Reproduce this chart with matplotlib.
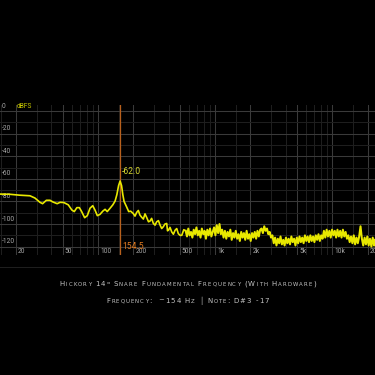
import matplotlib
matplotlib.use("Agg")
import matplotlib.pyplot as plt
from matplotlib.transforms import blended_transform_factory

# ---------------- data ----------------
freq_low = [14.6, 17.8, 21.6, 26.3, 29.0, 32.0, 33.7, 36.3, 39.0, 41.3, 44.9, 47.5, 51.2,
            55.8, 59.9, 62.8, 66.1, 69.4, 72.6, 77.0, 81.1, 85.6, 90.3, 94.4, 98.8, 104,
            110, 115, 120, 127, 134, 140, 145, 150, 154.5, 159, 163, 167, 175, 183, 190,
            200, 207, 214, 221, 228, 236, 244, 252, 261, 270, 278, 287, 297, 307, 317, 328, 339,
            350, 361, 373, 386, 392, 399, 412, 426, 440, 455, 470, 485, 502, 519, 540]
level_low = [-73.5, -73.7, -74.5, -75.0, -77.0, -80.8, -82.0, -79.0, -79.0, -80.5, -82.0, -80.8, -81.0,
             -83.0, -87.6, -89.0, -85.5, -85.5, -89.0, -94.4, -92.6, -86.0, -83.8, -87.7, -92.6, -91.5,
             -88.6, -87.0, -89.0, -86.0, -83.0, -79.7, -74.0, -66.0, -62.0, -66.0, -74.0, -80.0, -84.5, -89.0, -88.6,
             -90.7, -93.0, -89.7, -88.0, -92.0, -94.0, -95.6, -91.0, -94.4, -98.0, -97.4, -95.0, -99.5, -101.0, -98.0, -97.0, -101.0,
             -104.0, -102.4, -100.0, -99.5, -106.0, -105.5, -103.0, -107.0, -109.0, -105.5, -104.0, -108.5, -110.0, -110.0, -105.0]

freq_high = [560, 575, 590, 606, 622, 639, 656, 674, 692, 711, 730, 750, 770, 791, 812, 834, 857, 880, 904, 928, 953,
             979, 1005, 1032, 1060, 1089, 1118, 1148, 1179,
             1211, 1244, 1277, 1312, 1347, 1384, 1421, 1460, 1499, 1540, 1581, 1624, 1668, 1713, 1759, 1806, 1855,
             1905, 1957, 2010, 2064, 2120, 2177, 2236, 2296, 2358, 2422,
             2487, 2554, 2623, 2694, 2767, 2841, 2918, 2997,
             3078, 3161, 3246, 3334, 3424, 3516, 3611, 3708, 3808, 3911, 4017, 4125, 4236, 4351, 4468, 4589, 4713,
             4840, 4971, 5105, 5243, 5384, 5530, 5679, 5832, 5990, 6151, 6317, 6488, 6663, 6843, 7027, 7217, 7412,
             7612, 7817, 8028, 8245,
             8468, 8696, 8931, 9172, 9420, 9674, 9935, 10203, 10479, 10762, 11052, 11351, 11657, 11972, 12295, 12627,
             12968, 13318,
             13678, 14047, 14426, 14816, 15216, 15627, 16049, 16482, 16927, 17384, 17853, 18335, 18830, 19339, 19861,
             20397, 20948, 21513, 22094, 22690, 23000]
level_high = [-106, -111, -104, -110, -107, -112, -105, -109, -103, -110, -106, -112, -104, -109, -106, -113, -105, -110, -104, -111, -107,
              -103, -110, -101, -108, -100, -109, -105, -112,
              -106, -113, -107, -111, -105, -114, -108, -112, -106, -113, -109, -115, -107, -112, -108, -114, -106,
              -113, -109, -115, -108, -112, -107, -113, -106, -111, -105,
              -104, -108, -102, -106, -104, -109, -107, -112,
              -110, -117, -112, -119, -113, -117, -111, -118, -114, -119, -112, -117, -113, -118, -111, -116, -113,
              -119, -112, -117, -111, -116, -112, -117, -110, -115, -111, -116, -110, -115, -111, -116, -110, -114,
              -109, -115, -110, -113,
              -106, -112, -105, -111, -106, -112, -105, -110, -106, -112, -105, -111, -106, -112, -105, -111,
              -107, -113,
              -110, -116, -111, -117, -110, -118, -112, -117, -111, -102, -113, -119, -112, -118, -111,
              -119, -113, -120, -112, -119, -114]

peak_freq = 154.5
peak_level = -62.0

x_major = [20, 50, 100, 200, 500, 1000, 2000, 5000, 10000, 20000]
x_labels = ["20", "50", "100", "200", "500", "1k", "2k", "5k", "10k", "20k"]
x_minor = [15, 30, 40, 60, 70, 80, 90, 150, 300, 400, 600, 700, 800, 900, 1500, 3000, 4000,
           6000, 7000, 8000, 9000, 15000]
y_major = [0, -20, -40, -60, -80, -100, -120]
y_minor = [-10, -30, -50, -70, -90, -110]

title1 = "Hickory 14\" Snare Fundamental Frequency (With Hardware)"
title2 = "Frequency:  ~154 Hz \u2502 Note: D#3 -17"

# ---------------- figure ----------------
W = 375
fig = plt.figure(figsize=(3.75, 3.75), dpi=100, facecolor="black")
ax = fig.add_axes([0, 1 - 255 / W, 1, 150 / W], facecolor="black")
ax.set_xscale("log")
ax.set_xlim(14.6, 23100)
ax.set_ylim(-127.4, 5.3)
for s in ax.spines.values():
    s.set_visible(False)
ax.set_xticks([])
ax.set_yticks([])
ax.minorticks_off()

for f in x_minor:
    ax.axvline(f, color="#1e1e1e", lw=0.75, zorder=1)
for f in x_major:
    ax.axvline(f, color="#3a3a3a", lw=0.75, zorder=1)
for v in y_minor:
    ax.axhline(v, color="#1e1e1e", lw=0.75, zorder=1)
for v in y_major:
    ax.axhline(v, color="#3a3a3a", lw=0.75, zorder=1)

ax.axvline(peak_freq, color="#b8601c", lw=0.9, zorder=2)
ax.plot(freq_low + freq_high[:1], level_low + level_high[:1], color="#e8e800", lw=1.2,
        zorder=3, solid_joinstyle="round")
ax.plot(freq_high, level_high, color="#e8e800", lw=1.45, zorder=3, solid_joinstyle="round")

fnt = "Roboto"
lab_col = "#a8a8a8"
for v in y_major:
    ax.annotate(str(v), xy=(0, v), xycoords=blended_transform_factory(ax.transAxes, ax.transData),
                xytext=(1.5, 1.0), textcoords="offset points", ha="left", va="bottom",
                fontsize=4.8, color=lab_col, family=fnt, zorder=2)
tb = blended_transform_factory(ax.transData, ax.transAxes)
for f, l in zip(x_major, x_labels):
    ax.annotate(l, xy=(f, 0), xycoords=tb, xytext=(1.5, 2.3), textcoords="offset points",
                ha="left", va="center", fontsize=4.8, color=lab_col, family=fnt, zorder=2)

ax.annotate("dBFS", xy=(20, 0), xytext=(0.8, 0.8), textcoords="offset points", ha="left",
            va="bottom", fontsize=4.8, color="#c8c800", family=fnt, zorder=4)
ax.annotate(f"{peak_level:.1f}", xy=(peak_freq, peak_level), xytext=(0.9, 3.4),
            textcoords="offset points", ha="left", va="bottom", fontsize=6.2,
            color="#d8d830", family=fnt, zorder=4)
ax.annotate(f"{peak_freq}", xy=(peak_freq, 0), xycoords=tb, xytext=(1.4, 5.8),
            textcoords="offset points", ha="left", va="center", fontsize=6.2,
            color="#e07a20", family=fnt, zorder=4)

# bottom border line
fig.add_artist(plt.Line2D([0, 1], [1 - 266.5 / W, 1 - 266.5 / W], color="#1e1e1e", lw=0.75))

# ---------------- small caps titles ----------------
renderer = fig.canvas.get_renderer()


def small_caps(text, baseline_px, big, small, track, color):
    pieces = []
    for ch in text:
        if ch == " ":
            pieces.append((None, big * 0.28 * 100 / 72))
            continue
        sz = small if ch.islower() else big
        t = fig.text(0, 0, ch.upper(), fontsize=sz, color=color, family="DejaVu Sans",
                     ha="left", va="baseline")
        w = t.get_window_extent(renderer).width
        pieces.append((t, w))
    total = sum(w for _, w in pieces) + track * (len(pieces) - 1)
    x = W / 2 - total / 2
    for t, w in pieces:
        if t is not None:
            t.set_position((x / W, 1 - baseline_px / W))
        x += w + track


small_caps(title1, 285.6, 5.0, 3.9, 1.1, "#c4c4c4")
small_caps(title2, 302.6, 5.0, 3.9, 1.05, "#c4c4c4")

fig.savefig("out.png", dpi=100, facecolor="black")
